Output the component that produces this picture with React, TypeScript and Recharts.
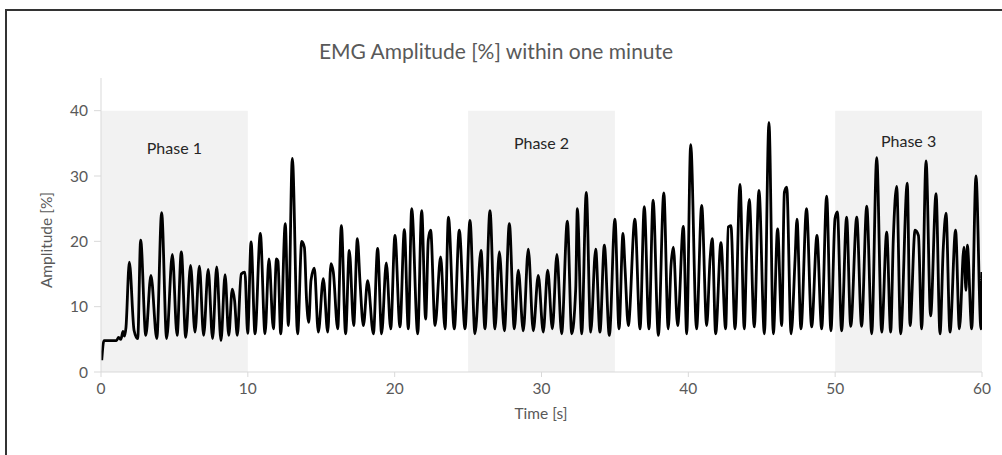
import { LineChart, Line, XAxis, YAxis, ReferenceArea } from 'recharts';

// [time s, amplitude %], split in 10 s windows
const seg00to10: [number, number][] = [
  [0.05, 1.8], [0.2, 4.8], [1.05, 4.8], [1.2, 5.3], [1.35, 5.0], [1.5, 6.2], [1.6, 5.5], [1.7, 6.8],
  [1.93, 16.8], [2.25, 6.4], [2.5, 5.1], [2.7, 20.2], [3.05, 5.6], [3.4, 14.8], [3.8, 5.1],
  [4.13, 24.4], [4.47, 5.1], [4.86, 18.0], [5.18, 5.6], [5.47, 18.4], [5.77, 5.3], [6.1, 16.3],
  [6.4, 6.1], [6.7, 16.2], [6.99, 5.6], [7.3, 15.7], [7.6, 5.1], [7.88, 16.1], [8.17, 4.8],
  [8.45, 14.9], [8.7, 5.6], [8.94, 12.7], [9.1, 10.9], [9.28, 5.6], [9.55, 15.0], [9.8, 15.3],
  [9.99, 5.9],
];

const seg10to20: [number, number][] = [
  [10.22, 19.9], [10.49, 5.85], [10.85, 21.2], [11.17, 5.85], [11.44, 17.3], [11.74, 6.6],
  [11.95, 17.3], [12.05, 17.0], [12.24, 5.85], [12.55, 22.7], [12.76, 7.1], [13.03, 32.7],
  [13.39, 5.85], [13.67, 20.0], [13.85, 19.1], [14.0, 11.0], [14.15, 7.6], [14.3, 14.0],
  [14.53, 15.9], [14.8, 6.1], [15.14, 14.3], [15.44, 6.1], [15.66, 16.6], [15.82, 15.3],
  [16.12, 6.6], [16.37, 22.4], [16.66, 5.85], [16.91, 18.6], [17.21, 7.1], [17.46, 20.4],
  [17.64, 13.8], [17.87, 7.1], [18.16, 14.0], [18.55, 5.85], [18.84, 18.9], [19.11, 5.85],
  [19.43, 16.7], [19.73, 6.6], [20.02, 20.9],
];

const seg20to30: [number, number][] = [
  [20.36, 6.9], [20.66, 21.8], [20.93, 6.6], [21.16, 25.0], [21.57, 5.85], [21.84, 24.7],
  [22.11, 8.1], [22.29, 20.2], [22.45, 21.7], [22.75, 7.1], [23.13, 17.6], [23.43, 6.6],
  [23.66, 23.7], [24.06, 6.6], [24.4, 21.7], [24.79, 6.6], [25.13, 23.2], [25.47, 5.85],
  [25.88, 18.6], [26.15, 6.6], [26.49, 24.7], [26.83, 6.6], [27.13, 18.4], [27.47, 6.3],
  [27.81, 22.7], [28.15, 6.6], [28.42, 15.6], [28.76, 6.3], [29.1, 18.8], [29.44, 6.3],
  [29.78, 14.8], [30.12, 6.1],
];

const seg30to40: [number, number][] = [
  [30.42, 15.6], [30.74, 6.6], [31.05, 18.0], [31.37, 5.85], [31.76, 23.1], [32.06, 5.85],
  [32.33, 12.7], [32.44, 25.0], [32.74, 5.85], [33.05, 27.5], [33.35, 6.1], [33.69, 18.8],
  [33.98, 6.1], [34.28, 19.4], [34.62, 5.6], [35.0, 23.4], [35.28, 6.6], [35.55, 21.2],
  [35.69, 15.8], [35.91, 7.1], [36.36, 23.4], [36.71, 6.6], [37.0, 25.3], [37.32, 6.6],
  [37.6, 26.3], [37.96, 5.6], [38.33, 27.4], [38.63, 6.6], [38.82, 16.3], [38.98, 19.1],
  [39.27, 7.1], [39.66, 22.3], [39.89, 5.85],
];

const seg40to50: [number, number][] = [
  [40.16, 34.8], [40.56, 6.6], [40.91, 25.5], [41.25, 7.1], [41.48, 17.3], [41.63, 20.4],
  [41.86, 5.85], [42.22, 19.8], [42.54, 6.6], [42.72, 22.2], [42.9, 22.4], [43.18, 6.6],
  [43.52, 28.7], [43.81, 6.6], [43.97, 18.4], [44.15, 26.4], [44.49, 6.9], [44.81, 27.8],
  [45.18, 5.85], [45.49, 38.2], [45.79, 5.85], [46.08, 21.9], [46.36, 7.1], [46.54, 27.5],
  [46.7, 28.3], [47.0, 5.85], [47.27, 17.3], [47.4, 23.4], [47.67, 6.6], [48.05, 25.0],
  [48.4, 6.9], [48.76, 20.9], [49.08, 6.6], [49.42, 26.9], [49.71, 6.3], [49.99, 23.5],
];

const seg50to60: [number, number][] = [
  [50.15, 24.5], [50.44, 6.3], [50.78, 23.7], [51.06, 7.0], [51.47, 23.7], [51.8, 7.0],
  [52.15, 25.4], [52.49, 5.85], [52.83, 32.8], [53.17, 6.1], [53.51, 21.4], [53.78, 6.1],
  [53.96, 20.4], [54.19, 28.4], [54.46, 5.85], [54.91, 28.9], [55.1, 7.1], [55.44, 21.7],
  [55.67, 20.9], [55.89, 6.6], [56.19, 32.3], [56.5, 8.6], [56.87, 27.3], [57.14, 5.85],
  [57.36, 18.9], [57.55, 24.3], [57.82, 6.1], [58.2, 21.7], [58.46, 6.6], [58.77, 19.1],
  [58.91, 12.5], [59.0, 19.4], [59.3, 6.6], [59.59, 30.0], [59.93, 6.6], [60.0, 15.3],
];

const phaseNames = ['Phase 1', 'Phase 2', 'Phase 3'];
const phaseStart = [0, 25, 50];
const phaseEnd = [10, 35, 60];
const phaseTop = 40;

const xTicks = [0, 10, 20, 30, 40, 50, 60];
const yTicks = [0, 10, 20, 30, 40];

const data = [...seg00to10, ...seg10to20, ...seg20to30, ...seg30to40, ...seg40to50, ...seg50to60].map(
  ([t, amp]) => ({ t, amp })
);

const font = 'Lato, "Open Sans", sans-serif';
const grey = '#595959';
// phase captions do not sit at quite the same height in the original
const labelOffsets = [32, 27, 25];

export default function App() {
  return (
    <div style={{ position: 'absolute', left: 0, top: 0, width: 1002, height: 455, background: '#fff', fontFamily: font }}>
      <div
        style={{
          position: 'absolute',
          left: 5,
          top: 9,
          width: 1000,
          height: 450,
          borderLeft: '2px solid #333',
          borderTop: '2px solid #333',
        }}
      />
      <div style={{ position: 'absolute', left: 0, width: 992, top: 38, textAlign: 'center', fontSize: 21, color: grey }}>
        EMG Amplitude [%] within one minute
      </div>
      <div
        style={{
          position: 'absolute',
          left: 46,
          top: 240,
          transform: 'translate(-50%, -50%) rotate(-90deg)',
          fontSize: 15.5,
          color: grey,
          whiteSpace: 'nowrap',
        }}
      >
        Amplitude [%]
      </div>
      <div style={{ position: 'absolute', left: 0, width: 1082, top: 404, textAlign: 'center', fontSize: 15.5, color: grey }}>
        Time [s]
      </div>
      <LineChart
        width={1002}
        height={455}
        data={data}
        margin={{ top: 78, right: 20, bottom: 53, left: 0 }}
        style={{ position: 'absolute', left: 0, top: 0 }}
      >
        {phaseNames.map((name, i) => (
          <ReferenceArea
            key={name}
            x1={phaseStart[i]}
            x2={phaseEnd[i]}
            y1={0}
            y2={phaseTop}
            fill="#f2f2f2"
            fillOpacity={1}
            stroke="none"
            label={{
              value: name,
              position: 'insideTop',
              offset: labelOffsets[i],
              fill: '#262626',
              fontSize: 16,
              fontFamily: font,
            }}
          />
        ))}
        <XAxis
          dataKey="t"
          type="number"
          domain={[0, 60]}
          ticks={xTicks}
          allowDataOverflow
          height={30}
          stroke="#d9d9d9"
          tickSize={5}
          tickMargin={6}
          tick={{ fill: grey, fontSize: 15.5, fontFamily: font }}
        />
        <YAxis
          type="number"
          domain={[0, 45]}
          ticks={yTicks}
          width={101}
          stroke="#d9d9d9"
          tickSize={7}
          tickMargin={6}
          tick={{ fill: grey, fontSize: 15.5, fontFamily: font }}
        />
        <Line
          type="monotone"
          dataKey="amp"
          stroke="#000"
          strokeWidth={2.8}
          dot={false}
          isAnimationActive={false}
        />
      </LineChart>
    </div>
  );
}
